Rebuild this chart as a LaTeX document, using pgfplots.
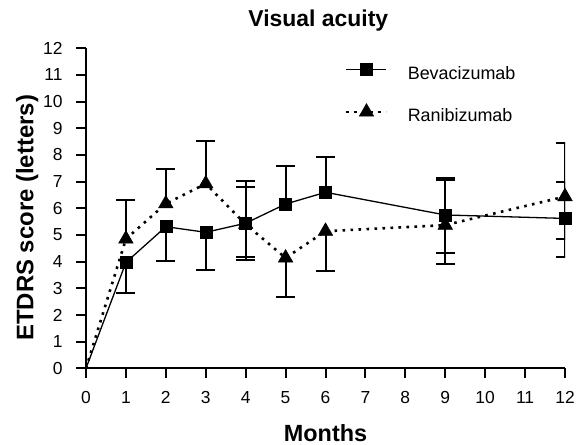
\documentclass[border=0pt]{standalone}
\usepackage{pgfplots}
\pgfplotsset{compat=1.18}
\usepackage{fontspec}
\setmainfont{Liberation Sans}
\newcommand{\tlf}{\fontsize{17.5}{20}\selectfont}
\newcommand{\lgf}{\fontsize{18}{21}\selectfont}
\begin{document}
\begin{tikzpicture}
\begin{axis}[
  at={(0,0)}, anchor=south west,
  scale only axis, width=479bp, height=320bp,
  xmin=0, xmax=12, ymin=0, ymax=12,
  axis x line=bottom, axis y line=left,
  axis line style={-, line width=2bp},
  xtick={0,1,...,12}, ytick={0,1,...,12},
  xtick align=outside, ytick align=outside, major tick length=10bp,
  every tick/.append style={line width=2bp, black},
  xticklabel={\tlf\pgfmathprintnumber[assume math mode=true]{\tick}},
  yticklabel={\tlf\pgfmathprintnumber[assume math mode=true]{\tick}},
  xticklabel style={yshift=-10bp},
  yticklabel style={xshift=-10bp},
  title={Visual acuity},
  title style={font=\fontsize{23}{27}\selectfont\bfseries, inner sep=0pt, at={(0.485,1)}, anchor=base, yshift=16bp},
  xlabel={Months},
  xlabel style={font=\fontsize{23.5}{27}\selectfont\bfseries, inner sep=0pt, at={(0.5,0)}, anchor=base, yshift=-73bp},
  ylabel={ETDRS score (letters)},
  ylabel style={font=\fontsize{24}{27}\selectfont\bfseries, inner sep=0pt, at={(0,0.47)}, anchor=base, yshift=52.5bp},
  legend style={draw=none, fill=none, at={(0.5407,0.9525)}, anchor=north west, inner sep=0pt, row sep=22.5bp, column sep=20bp, nodes={inner sep=0pt}},
  legend cell align=left,
  legend image code/.code={\draw[mark repeat=2, mark phase=2, #1] plot coordinates {(0bp,4.2bp) (20bp,4.2bp) (40bp,4.2bp)};},
]
% error bars (upward)
\addplot[forget plot, only marks, mark=none, error bars/.cd, y dir=plus, y explicit,
  error bar style={line width=2bp, black}, error mark options={rotate=90, mark size=9.5bp, line width=2bp, black}]
  table[x=x, y=y, y error=e] {
x y e
1 4.85 1.46
2 6.17 1.29
3 6.92 1.61
4 5.44 1.59
4 5.44 1.37
5 6.16 1.43
6 6.60 1.31
9 5.75 1.40
9 5.75 1.31
12 6.44 2.02
12 5.62 1.38
};
% error bars (downward)
\addplot[forget plot, only marks, mark=none, error bars/.cd, y dir=minus, y explicit,
  error bar style={line width=2bp, black}, error mark options={rotate=90, mark size=9.5bp, line width=2bp, black}]
  table[x=x, y=y, y error=e] {
x y e
1 3.97 1.13
2 5.31 1.30
3 5.10 1.41
4 5.44 1.28
4 5.44 1.38
5 4.14 1.45
6 5.14 1.48
9 5.37 1.05
9 5.37 1.47
12 6.44 1.58
12 5.62 1.45
};
% segments from origin
\addplot[forget plot, black, line width=1.3bp] coordinates {(0,0) (1,3.97)};
\addplot[forget plot, black, line width=2.6bp, dash pattern=on 2.6bp off 5.4bp] coordinates {(0,0) (1,4.85)};
% Bevacizumab
\addplot[black, line width=1.3bp, mark=square*, mark size=6bp, mark options={solid, line width=0.5bp}] table {
x y
1 3.97
2 5.31
3 5.10
4 5.44
5 6.16
6 6.60
9 5.75
12 5.62
};
\addlegendentry{\lgf Bevacizumab}
% Ranibizumab
\addplot[black, line width=2.6bp, dash pattern=on 2.6bp off 5.4bp, mark=triangle*, mark size=8.4bp, mark options={solid, line width=0.5bp}] table {
x y
1 4.85
2 6.17
3 6.92
4 5.40
5 4.14
6 5.14
9 5.37
12 6.44
};
\addlegendentry{\lgf Ranibizumab}
\end{axis}
\path (-86bp,-76.7bp) rectangle (494bp,368.3bp);
\end{tikzpicture}
\end{document}
